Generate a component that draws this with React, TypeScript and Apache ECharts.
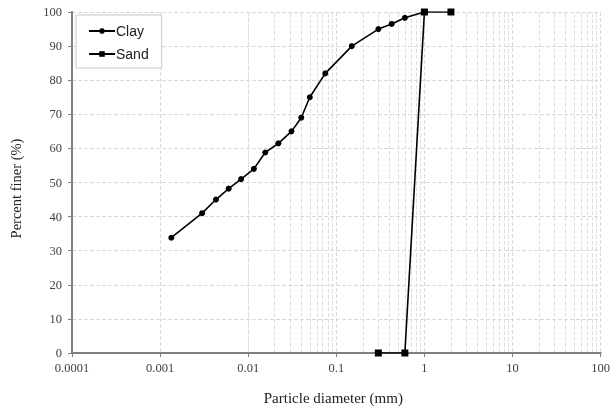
import React, { useEffect, useRef } from "react";
import * as echarts from "echarts";

const clayDiameter = [0.00134, 0.003, 0.0043, 0.006, 0.0083, 0.0116, 0.0156, 0.022, 0.031, 0.04, 0.05, 0.075, 0.15, 0.3, 0.425, 0.6, 1];
const clayFiner = [33.8, 41, 45, 48.2, 51, 54, 58.8, 61.5, 65, 69, 75, 82, 90, 95, 96.5, 98.3, 100];
const sandDiameter = [0.3, 0.6, 1, 2];
const sandFiner = [0, 0, 100, 100];
const seriesNames = ["Clay", "Sand"];
const xDecades = [0.0001, 0.001, 0.01, 0.1, 1, 10];
const minorMultipliers = [2, 3, 4, 5, 6, 7, 8, 9];

export default function App() {
  const ref = useRef<HTMLDivElement>(null);
  useEffect(() => {
    if (!ref.current) return;
    const chart = echarts.init(ref.current, null, { renderer: "svg" });
    const minorLines: any[] = [];
    xDecades.forEach((d) => minorMultipliers.forEach((m) => minorLines.push({ xAxis: Number((d * m).toPrecision(2)) })));
    const serif = "'Liberation Serif', 'Times New Roman', serif";
    chart.setOption({
      animation: false,
      grid: { left: 70, right: 10, top: 12, bottom: 56 },
      legend: {
        data: seriesNames,
        orient: "vertical",
        left: 76,
        top: 15,
        padding: [9, 13, 7, 12],
        itemWidth: 26,
        itemHeight: 7,
        itemGap: 9,
        backgroundColor: "#fff",
        borderColor: "#c8c8c8",
        borderWidth: 1,
        textStyle: { fontFamily: "'Liberation Sans', Arial, sans-serif", fontSize: 14, color: "#222", padding: [0, 0, 0, -4] },
      },
      xAxis: {
        type: "log",
        logBase: 10,
        min: 0.0001,
        max: 100,
        name: "Particle diameter (mm)",
        nameLocation: "middle",
        nameGap: 37,
        nameTextStyle: { fontFamily: serif, fontSize: 15, color: "#222", padding: [0, 6, 0, 0] },
        axisLine: { lineStyle: { color: "#808080", width: 2 } },
        axisTick: { show: true, length: 4, lineStyle: { color: "#808080", width: 1 } },
        axisLabel: {
          fontFamily: serif,
          fontSize: 12.5,
          color: "#404040",
          margin: 8,
          formatter: (v: number) => String(Number(v.toPrecision(1))),
        },
        splitLine: { show: true, lineStyle: { color: "#d9d9d9", type: "dashed", width: 1 } },
        minorTick: { show: false },
      },
      yAxis: {
        type: "value",
        min: 0,
        max: 100,
        interval: 10,
        name: "Percent finer (%)",
        nameLocation: "middle",
        nameGap: 49,
        nameTextStyle: { fontFamily: serif, fontSize: 14.5, color: "#222", padding: [0, 12, 0, 0] },
        axisLine: { show: true, lineStyle: { color: "#808080", width: 2 } },
        axisTick: { show: true, length: 4, lineStyle: { color: "#808080", width: 1 } },
        axisLabel: { fontFamily: serif, fontSize: 12.5, color: "#404040", margin: 10 },
        splitLine: { show: true, lineStyle: { color: "#d9d9d9", type: "dashed", width: 1 } },
      },
      series: [
        {
          name: "minorGrid",
          type: "line",
          data: [],
          silent: true,
          z: 0,
          markLine: {
            silent: true,
            z: 0,
            symbol: "none",
            label: { show: false },
            lineStyle: { color: "#dedede", type: "dashed", width: 1 },
            data: minorLines,
          },
        },
        {
          name: seriesNames[0],
          type: "line",
          data: clayDiameter.map((d, i) => [d, clayFiner[i]]),
          symbol: "circle",
          symbolSize: 6,
          color: "#000",
          lineStyle: { color: "#000", width: 1.6 },
          itemStyle: { color: "#000" },
          z: 3,
        },
        {
          name: seriesNames[1],
          type: "line",
          data: sandDiameter.map((d, i) => [d, sandFiner[i]]),
          symbol: "rect",
          symbolSize: 7,
          color: "#000",
          lineStyle: { color: "#000", width: 1.6 },
          itemStyle: { color: "#000" },
          z: 3,
        },
      ],
    });
    return () => chart.dispose();
  }, []);
  return <div ref={ref} style={{ position: "fixed", left: 0, top: 0, width: 613, height: 410 }} />;
}
